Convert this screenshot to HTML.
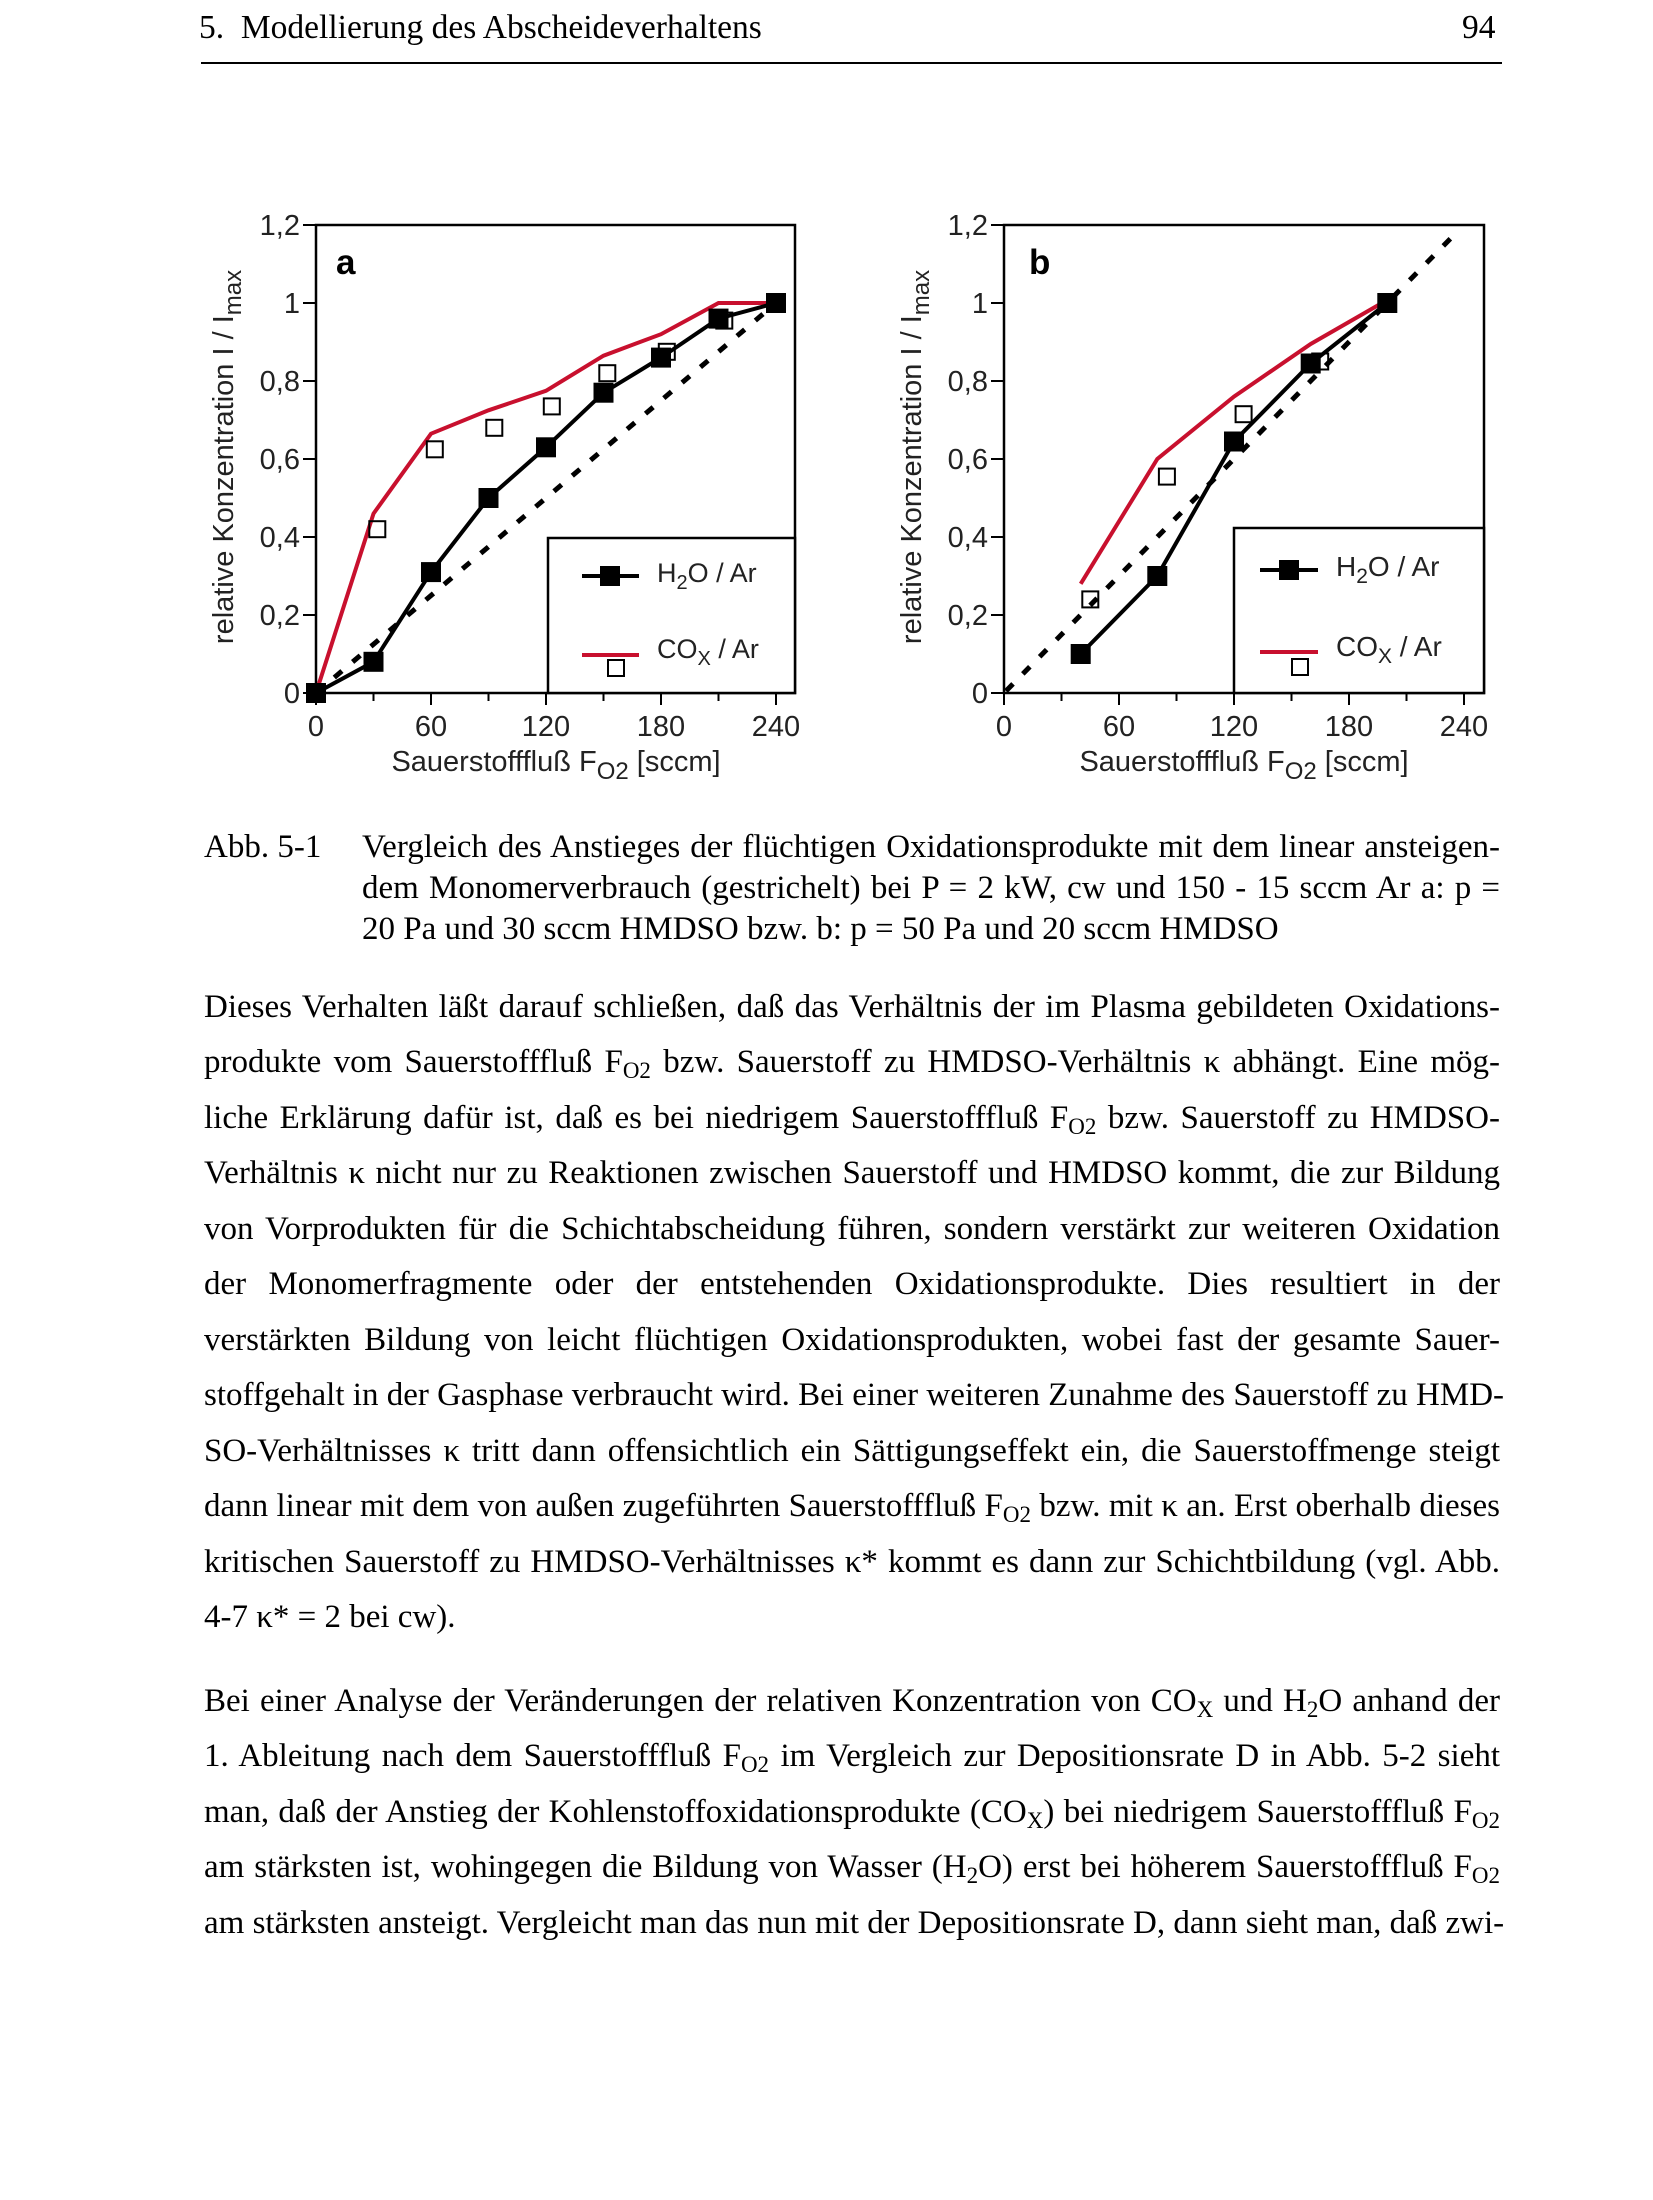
<!DOCTYPE html>
<html><head><meta charset="utf-8">
<style>
html,body{margin:0;padding:0;background:#fff;}
body{width:1653px;height:2200px;position:relative;overflow:hidden;font-family:"Liberation Serif",serif;color:#000;}
.hdr{position:absolute;top:9px;font-size:33.5px;}
.ln{position:absolute;left:204px;width:1296px;font-size:33px;line-height:40px;text-align:justify;text-align-last:justify;white-space:nowrap;}
.ln.l{text-align-last:left;}
.cap{left:362px;width:1138px;}
sub{font-size:23px;vertical-align:-6px;line-height:0;}
svg text{font-family:"Liberation Sans",sans-serif;}
</style></head><body>
<div class="hdr" style="left:199px;">5.&nbsp; Modellierung des Abscheideverhaltens</div>
<div class="hdr" style="left:1462px;">94</div>
<div style="position:absolute;left:201px;top:62px;width:1301px;height:2px;background:#000;"></div>

<svg width="1653" height="800" style="position:absolute;left:0;top:0" xmlns="http://www.w3.org/2000/svg">
<g font-size="29" fill="#222">
<!-- Plot a -->
<rect x="316" y="225" width="479" height="468" fill="none" stroke="#000" stroke-width="2.5"/>
<g stroke="#000" stroke-width="2">
<line x1="303" y1="225" x2="316" y2="225"/><line x1="303" y1="303" x2="316" y2="303"/><line x1="303" y1="381" x2="316" y2="381"/><line x1="303" y1="459" x2="316" y2="459"/><line x1="303" y1="537" x2="316" y2="537"/><line x1="303" y1="615" x2="316" y2="615"/><line x1="303" y1="693" x2="316" y2="693"/>
<line x1="316" y1="693" x2="316" y2="705"/><line x1="373.5" y1="693" x2="373.5" y2="701"/><line x1="431" y1="693" x2="431" y2="705"/><line x1="488.5" y1="693" x2="488.5" y2="701"/><line x1="546" y1="693" x2="546" y2="705"/><line x1="603.5" y1="693" x2="603.5" y2="701"/><line x1="661" y1="693" x2="661" y2="705"/><line x1="718.5" y1="693" x2="718.5" y2="701"/><line x1="776" y1="693" x2="776" y2="705"/>
</g>
<g text-anchor="end">
<text x="300" y="235">1,2</text><text x="300" y="313">1</text><text x="300" y="391">0,8</text><text x="300" y="469">0,6</text><text x="300" y="547">0,4</text><text x="300" y="625">0,2</text><text x="300" y="703">0</text>
</g>
<g text-anchor="middle">
<text x="316" y="736">0</text><text x="431" y="736">60</text><text x="546" y="736">120</text><text x="661" y="736">180</text><text x="776" y="736">240</text>
<text x="556" y="771">Sauerstofffluß F<tspan font-size="24" dy="8">O2</tspan><tspan dy="-8"> [sccm]</tspan></text>
<text transform="translate(233,457) rotate(-90)">relative Konzentration I / I<tspan font-size="24" dy="8">max</tspan></text>
</g>
<text x="336" y="274" font-size="35" font-weight="bold" fill="#000">a</text>
<line x1="316" y1="693" x2="776" y2="303" stroke="#000" stroke-width="5" stroke-dasharray="10,14"/>
<polyline points="316,693 373.5,513.6 431,433.7 488.5,410.3 546,390.8 603.5,355.7 661,334.2 718.5,303 776,303" fill="none" stroke="#c8102e" stroke-width="4"/>
<polyline points="316,693 373.5,661.8 431,572.1 488.5,498 546,447.3 603.5,392.7 661,357.6 718.5,318.6 776,303" fill="none" stroke="#000" stroke-width="4"/>
<g fill="#000">
<rect x="306" y="683" width="20" height="20"/><rect x="363.5" y="651.8" width="20" height="20"/><rect x="421" y="562.1" width="20" height="20"/><rect x="478.5" y="488" width="20" height="20"/><rect x="536" y="437.3" width="20" height="20"/><rect x="593.5" y="382.7" width="20" height="20"/><rect x="651" y="347.6" width="20" height="20"/><rect x="708.5" y="308.6" width="20" height="20"/><rect x="766" y="293" width="20" height="20"/>
</g>
<g fill="none" stroke="#000" stroke-width="2">
<rect x="369.3" y="521.2" width="16" height="16"/><rect x="426.8" y="441.3" width="16" height="16"/><rect x="486.3" y="419.8" width="16" height="16"/><rect x="543.8" y="398.4" width="16" height="16"/><rect x="599.3" y="365.2" width="16" height="16"/><rect x="658.8" y="343.8" width="16" height="16"/><rect x="716.3" y="312.6" width="16" height="16"/>
</g>
<rect x="548" y="538" width="247" height="155" fill="#fff" stroke="#000" stroke-width="2.5"/>
<line x1="582" y1="576" x2="639" y2="576" stroke="#000" stroke-width="4"/><rect x="600" y="566" width="20" height="20" fill="#000"/>
<text x="657" y="582" font-size="27">H<tspan font-size="20" dy="7">2</tspan><tspan dy="-7">O / Ar</tspan></text>
<line x1="582" y1="655" x2="639" y2="655" stroke="#c8102e" stroke-width="4"/><rect x="608" y="660" width="16" height="16" fill="none" stroke="#000" stroke-width="2"/>
<text x="657" y="658" font-size="27">CO<tspan font-size="20" dy="7">X</tspan><tspan dy="-7"> / Ar</tspan></text>

<!-- Plot b -->
<rect x="1004" y="225" width="480" height="468" fill="none" stroke="#000" stroke-width="2.5"/>
<g stroke="#000" stroke-width="2">
<line x1="991" y1="225" x2="1004" y2="225"/><line x1="991" y1="303" x2="1004" y2="303"/><line x1="991" y1="381" x2="1004" y2="381"/><line x1="991" y1="459" x2="1004" y2="459"/><line x1="991" y1="537" x2="1004" y2="537"/><line x1="991" y1="615" x2="1004" y2="615"/><line x1="991" y1="693" x2="1004" y2="693"/>
<line x1="1004" y1="693" x2="1004" y2="705"/><line x1="1061.5" y1="693" x2="1061.5" y2="701"/><line x1="1119" y1="693" x2="1119" y2="705"/><line x1="1176.5" y1="693" x2="1176.5" y2="701"/><line x1="1234" y1="693" x2="1234" y2="705"/><line x1="1291.5" y1="693" x2="1291.5" y2="701"/><line x1="1349" y1="693" x2="1349" y2="705"/><line x1="1406.5" y1="693" x2="1406.5" y2="701"/><line x1="1464" y1="693" x2="1464" y2="705"/>
</g>
<g text-anchor="end">
<text x="988" y="235">1,2</text><text x="988" y="313">1</text><text x="988" y="391">0,8</text><text x="988" y="469">0,6</text><text x="988" y="547">0,4</text><text x="988" y="625">0,2</text><text x="988" y="703">0</text>
</g>
<g text-anchor="middle">
<text x="1004" y="736">0</text><text x="1119" y="736">60</text><text x="1234" y="736">120</text><text x="1349" y="736">180</text><text x="1464" y="736">240</text>
<text x="1244" y="771">Sauerstofffluß F<tspan font-size="24" dy="8">O2</tspan><tspan dy="-8"> [sccm]</tspan></text>
<text transform="translate(921,457) rotate(-90)">relative Konzentration I / I<tspan font-size="24" dy="8">max</tspan></text>
</g>
<text x="1029" y="274" font-size="35" font-weight="bold" fill="#000">b</text>
<line x1="1006" y1="691" x2="1454" y2="235" stroke="#000" stroke-width="5" stroke-dasharray="10,14"/>
<polyline points="1080.7,583.8 1157.3,459 1234,396.6 1310.7,344 1382,303" fill="none" stroke="#c8102e" stroke-width="4"/>
<polyline points="1080.7,654 1157.3,576 1234,441.5 1310.7,363.5 1387.3,303" fill="none" stroke="#000" stroke-width="4"/>
<g fill="#000">
<rect x="1070.7" y="644" width="20" height="20"/><rect x="1147.3" y="566" width="20" height="20"/><rect x="1224" y="431.5" width="20" height="20"/><rect x="1300.7" y="353.5" width="20" height="20"/><rect x="1377.3" y="293" width="20" height="20"/>
</g>
<g fill="none" stroke="#000" stroke-width="2">
<rect x="1082.3" y="591.4" width="16" height="16"/><rect x="1158.9" y="468.6" width="16" height="16"/><rect x="1235.6" y="406.2" width="16" height="16"/><rect x="1312.2" y="353.5" width="16" height="16"/>
</g>
<rect x="1234" y="528" width="250" height="165" fill="#fff" stroke="#000" stroke-width="2.5"/>
<line x1="1260" y1="570" x2="1318" y2="570" stroke="#000" stroke-width="4"/><rect x="1279" y="560" width="20" height="20" fill="#000"/>
<text x="1336" y="576" font-size="28">H<tspan font-size="21" dy="7">2</tspan><tspan dy="-7">O / Ar</tspan></text>
<line x1="1260" y1="652" x2="1318" y2="652" stroke="#c8102e" stroke-width="4"/><rect x="1292" y="659" width="16" height="16" fill="none" stroke="#000" stroke-width="2"/>
<text x="1336" y="656" font-size="28">CO<tspan font-size="21" dy="7">X</tspan><tspan dy="-7"> / Ar</tspan></text>
</g>
</svg>

<div class="ln l" style="top:827px;width:150px;">Abb. 5-1</div>
<div class="ln cap" style="top:827px;">Vergleich des Anstieges der flüchtigen Oxidationsprodukte mit dem linear ansteigen-</div>
<div class="ln cap" style="top:868px;">dem Monomerverbrauch (gestrichelt) bei P = 2 kW, cw und 150 - 15 sccm Ar a: p =</div>
<div class="ln cap l" style="top:909px;">20 Pa und 30 sccm HMDSO bzw. b: p = 50 Pa und 20 sccm HMDSO</div>

<div class="ln" style="top:987px;">Dieses Verhalten läßt darauf schließen, daß das Verhältnis der im Plasma gebildeten Oxidations-</div>
<div class="ln" style="top:1042px;">produkte vom Sauerstofffluß F<sub>O2</sub> bzw. Sauerstoff zu HMDSO-Verhältnis κ abhängt. Eine mög-</div>
<div class="ln" style="top:1098px;">liche Erklärung dafür ist, daß es bei niedrigem Sauerstofffluß F<sub>O2</sub> bzw. Sauerstoff zu HMDSO-</div>
<div class="ln" style="top:1153px;">Verhältnis κ nicht nur zu Reaktionen zwischen Sauerstoff und HMDSO kommt, die zur Bildung</div>
<div class="ln" style="top:1209px;">von Vorprodukten für die Schichtabscheidung führen, sondern verstärkt zur weiteren Oxidation</div>
<div class="ln" style="top:1264px;">der Monomerfragmente oder der entstehenden Oxidationsprodukte. Dies resultiert in der</div>
<div class="ln" style="top:1320px;">verstärkten Bildung von leicht flüchtigen Oxidationsprodukten, wobei fast der gesamte Sauer-</div>
<div class="ln" style="top:1375px;">stoffgehalt in der Gasphase verbraucht wird. Bei einer weiteren Zunahme des Sauerstoff zu HMD-</div>
<div class="ln" style="top:1431px;">SO-Verhältnisses κ tritt dann offensichtlich ein Sättigungseffekt ein, die Sauerstoffmenge steigt</div>
<div class="ln" style="top:1486px;">dann linear mit dem von außen zugeführten Sauerstofffluß F<sub>O2</sub> bzw. mit κ an. Erst oberhalb dieses</div>
<div class="ln" style="top:1542px;">kritischen Sauerstoff zu HMDSO-Verhältnisses κ* kommt es dann zur Schichtbildung (vgl. Abb.</div>
<div class="ln l" style="top:1597px;">4-7 κ* = 2 bei cw).</div>

<div class="ln" style="top:1681px;">Bei einer Analyse der Veränderungen der relativen Konzentration von CO<sub>X</sub> und H<sub>2</sub>O anhand der</div>
<div class="ln" style="top:1736px;">1. Ableitung nach dem Sauerstofffluß F<sub>O2</sub> im Vergleich zur Depositionsrate D in Abb. 5-2 sieht</div>
<div class="ln" style="top:1792px;">man, daß der Anstieg der Kohlenstoffoxidationsprodukte (CO<sub>X</sub>) bei niedrigem Sauerstofffluß F<sub>O2</sub></div>
<div class="ln" style="top:1847px;">am stärksten ist, wohingegen die Bildung von Wasser (H<sub>2</sub>O) erst bei höherem Sauerstofffluß F<sub>O2</sub></div>
<div class="ln" style="top:1903px;">am stärksten ansteigt. Vergleicht man das nun mit der Depositionsrate D, dann sieht man, daß zwi-</div>
</body></html>
